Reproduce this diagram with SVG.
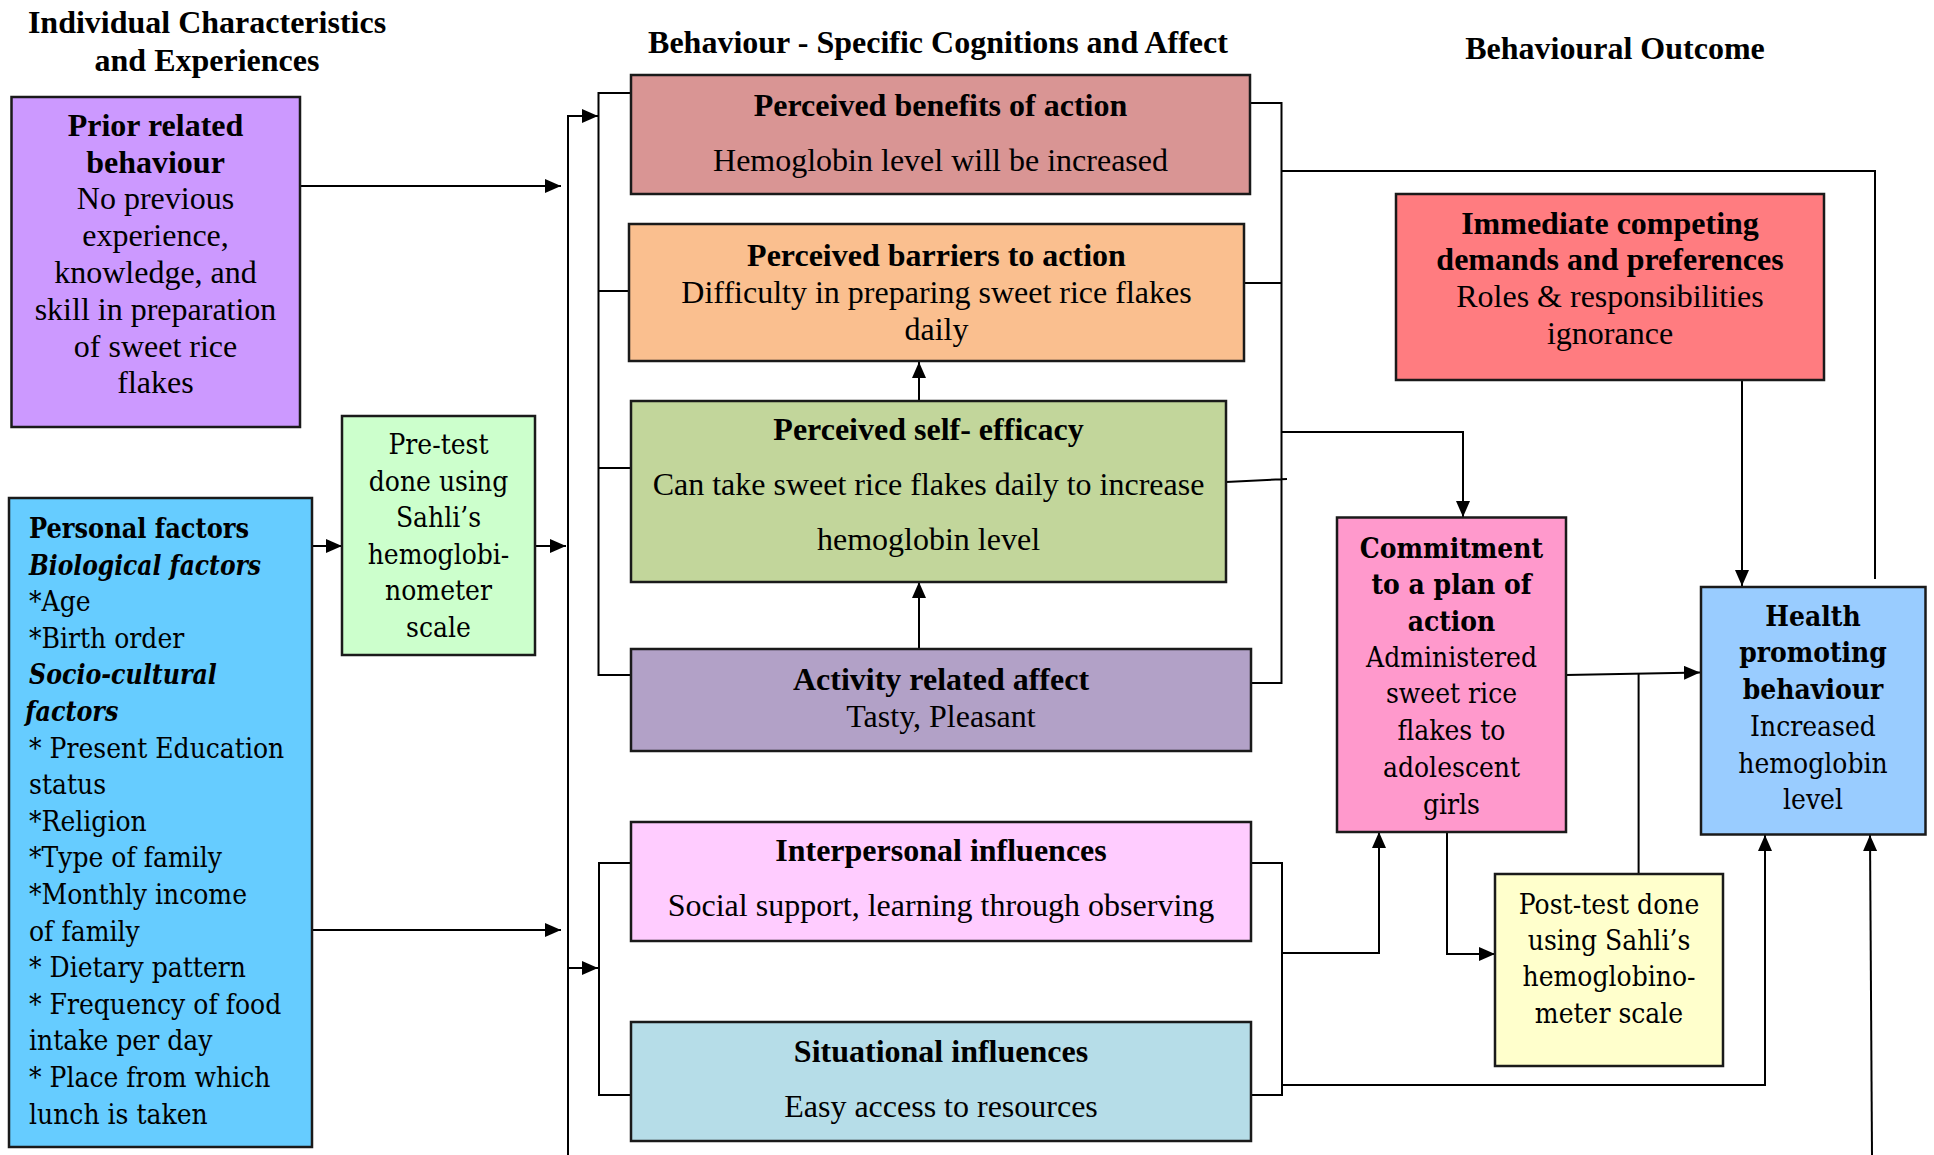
<svg xmlns="http://www.w3.org/2000/svg" width="1934" height="1155" viewBox="0 0 1934 1155">
<style>
.box{stroke:#1a1a1a;stroke-width:2.5}
.t{font-family:"Liberation Serif","Times New Roman",serif;font-size:32px;text-anchor:middle;fill:#000}
.b{font-weight:bold}
.c{font-family:"DejaVu Serif",serif;font-size:27px;fill:#000}
.m{text-anchor:middle}
.bi{font-weight:bold;font-style:italic}
.ln{stroke:#000;stroke-width:2;fill:none}
.ar{marker-end:url(#ah)}
</style>
<defs>
<marker id="ah" markerUnits="userSpaceOnUse" markerWidth="16" markerHeight="14" refX="16" refY="7" orient="auto"><path d="M0,0 L16,7 L0,14 z" fill="#000"/></marker>
</defs>
<rect width="1934" height="1155" fill="#fff"/>

<g id="titles">
<text class="t b" x="207" y="33">Individual Characteristics</text>
<text class="t b" x="207" y="71">and Experiences</text>
<text class="t b" x="938" y="53">Behaviour - Specific Cognitions and Affect</text>
<text class="t b" x="1615" y="59">Behavioural Outcome</text>
</g>

<g id="connectors">
<path class="ln ar" d="M300,186 H561"/>
<path class="ln" d="M568,115 V1155"/>
<path class="ln ar" d="M568,116 H598"/>
<path class="ln" d="M631,93 H598.5 V675 H631 M598.5,291 H629 M598.5,468 H631"/>
<path class="ln ar" d="M312,546 H342"/>
<path class="ln ar" d="M535,546 H566"/>
<path class="ln ar" d="M312,930 H561"/>
<path class="ln ar" d="M568,968 H598"/>
<path class="ln" d="M631,863 H599 V1095 H631"/>
<path class="ln" d="M1250,103 H1281.5 V683 H1251 M1244,283 H1281.5 M1226,482 L1287,479"/>
<path class="ln" d="M1281.5,171 H1875 V579"/>
<path class="ln ar" d="M1281.5,432 H1463 V517"/>
<path class="ln ar" d="M1742,380 V586"/>
<path class="ln ar" d="M1566,675 L1700,672.5"/>
<path class="ln" d="M1638.6,874 V674"/>
<path class="ln ar" d="M1447,832 V954 H1495"/>
<path class="ln" d="M1251,863 H1282 V1095 H1251"/>
<path class="ln ar" d="M1282,953 H1379 V832"/>
<path class="ln ar" d="M1282,1085 H1765 V835"/>
<path class="ln ar" d="M1872,1155 L1870,835"/>
<path class="ln ar" d="M919,400 V362"/>
<path class="ln ar" d="M919,649 V582"/>
</g>

<g id="prior">
<rect class="box" x="11.5" y="97" width="288.5" height="330" fill="#CC99FF"/>
<text class="t"><tspan class="b" x="155.5" y="136">Prior related</tspan><tspan class="b" x="155.5" y="173">behaviour</tspan><tspan x="155.5" y="209">No previous</tspan><tspan x="155.5" y="246">experience,</tspan><tspan x="155.5" y="283">knowledge, and</tspan><tspan x="155.5" y="320">skill in preparation</tspan><tspan x="155.5" y="357">of sweet rice</tspan><tspan x="155.5" y="393">flakes</tspan></text>
</g>

<g id="personal">
<rect class="box" x="9" y="498" width="303" height="649" fill="#66CCFF"/>
<g transform="translate(29 0) scale(0.93 1)">
<text class="c"><tspan class="b" x="0" y="538" textLength="236.6" lengthAdjust="spacingAndGlyphs">Personal factors</tspan><tspan class="bi" x="0" y="574.6" textLength="249.5" lengthAdjust="spacingAndGlyphs">Biological factors</tspan><tspan x="0" y="611.2">*Age</tspan><tspan x="0" y="647.8">*Birth order</tspan><tspan class="bi" x="0" y="684.4" textLength="202" lengthAdjust="spacingAndGlyphs">Socio-cultural</tspan><tspan class="bi" x="-4" y="721" textLength="100" lengthAdjust="spacingAndGlyphs">factors</tspan><tspan x="0" y="757.6">* Present Education</tspan><tspan x="0" y="794.2">status</tspan><tspan x="0" y="830.8">*Religion</tspan><tspan x="0" y="867.4">*Type of family</tspan><tspan x="0" y="904">*Monthly income</tspan><tspan x="0" y="940.6">of family</tspan><tspan x="0" y="977.2">* Dietary pattern</tspan><tspan x="0" y="1013.8">* Frequency of food</tspan><tspan x="0" y="1050.4">intake per day</tspan><tspan x="0" y="1087">* Place from which</tspan><tspan x="0" y="1123.6">lunch is taken</tspan></text>
</g>
</g>

<g id="pretest">
<rect class="box" x="342" y="416" width="193" height="239" fill="#CCFFCC"/>
<g transform="translate(438.5 0) scale(0.93 1)">
<text class="c m"><tspan x="0" y="454">Pre-test</tspan><tspan x="0" y="490.6">done using</tspan><tspan x="0" y="527.2">Sahli’s</tspan><tspan x="0" y="563.8">hemoglobi-</tspan><tspan x="0" y="600.4">nometer</tspan><tspan x="0" y="637">scale</tspan></text>
</g>
</g>

<g id="benefits">
<rect class="box" x="631" y="75" width="619" height="119" fill="#D99594"/>
<text class="t"><tspan class="b" x="940.5" y="115.5">Perceived benefits of action</tspan><tspan x="940.5" y="170.5">Hemoglobin level will be increased</tspan></text>
</g>

<g id="barriers">
<rect class="box" x="629" y="224" width="615" height="137" fill="#FABF8F"/>
<text class="t"><tspan class="b" x="936.5" y="265.5">Perceived barriers to action</tspan><tspan x="936.5" y="302.5">Difficulty in preparing sweet rice flakes</tspan><tspan x="936.5" y="339.5">daily</tspan></text>
</g>

<g id="selfefficacy">
<rect class="box" x="631" y="401" width="595" height="181" fill="#C2D69B"/>
<text class="t"><tspan class="b" x="928.5" y="440">Perceived self- efficacy</tspan><tspan x="928.5" y="495">Can take sweet rice flakes daily to increase</tspan><tspan x="928.5" y="550">hemoglobin level</tspan></text>
</g>

<g id="affect">
<rect class="box" x="631" y="649" width="620" height="102" fill="#B2A1C7"/>
<text class="t"><tspan class="b" x="941" y="690">Activity related affect</tspan><tspan x="941" y="727">Tasty, Pleasant</tspan></text>
</g>

<g id="interpersonal">
<rect class="box" x="631" y="822" width="620" height="119" fill="#FFCCFF"/>
<text class="t"><tspan class="b" x="941" y="861">Interpersonal influences</tspan><tspan x="941" y="916">Social support, learning through observing</tspan></text>
</g>

<g id="situational">
<rect class="box" x="631" y="1022" width="620" height="119" fill="#B6DDE8"/>
<text class="t"><tspan class="b" x="941" y="1062">Situational influences</tspan><tspan x="941" y="1117">Easy access to resources</tspan></text>
</g>

<g id="competing">
<rect class="box" x="1396" y="194" width="428" height="186" fill="#FF7C80"/>
<text class="t"><tspan class="b" x="1610" y="233.5">Immediate competing</tspan><tspan class="b" x="1610" y="270">demands and preferences</tspan><tspan x="1610" y="307">Roles &amp; responsibilities</tspan><tspan x="1610" y="344">ignorance</tspan></text>
</g>

<g id="commitment">
<rect class="box" x="1337" y="517.5" width="229" height="314.5" fill="#FF99CC"/>
<g transform="translate(1451.5 0) scale(0.93 1)">
<text class="c m"><tspan class="b" x="0" y="558">Commitment</tspan><tspan class="b" x="0" y="594.5">to a plan of</tspan><tspan class="b" x="0" y="631">action</tspan><tspan x="0" y="667">Administered</tspan><tspan x="0" y="703.5">sweet rice</tspan><tspan x="0" y="740">flakes to</tspan><tspan x="0" y="777">adolescent</tspan><tspan x="0" y="814">girls</tspan></text>
</g>
</g>

<g id="health">
<rect class="box" x="1701" y="587" width="224.5" height="247.5" fill="#99CCFF"/>
<g transform="translate(1813 0) scale(0.93 1)">
<text class="c m"><tspan class="b" x="0" y="626">Health</tspan><tspan class="b" x="0" y="662.5">promoting</tspan><tspan class="b" x="0" y="699.5">behaviour</tspan><tspan x="0" y="736">Increased</tspan><tspan x="0" y="773">hemoglobin</tspan><tspan x="0" y="809">level</tspan></text>
</g>
</g>

<g id="posttest">
<rect class="box" x="1495" y="874" width="228" height="192" fill="#FFFFCC"/>
<g transform="translate(1609 0) scale(0.93 1)">
<text class="c m"><tspan x="0" y="914">Post-test done</tspan><tspan x="0" y="950">using Sahli’s</tspan><tspan x="0" y="986.5">hemoglobino-</tspan><tspan x="0" y="1023">meter scale</tspan></text>
</g>
</g>
</svg>
